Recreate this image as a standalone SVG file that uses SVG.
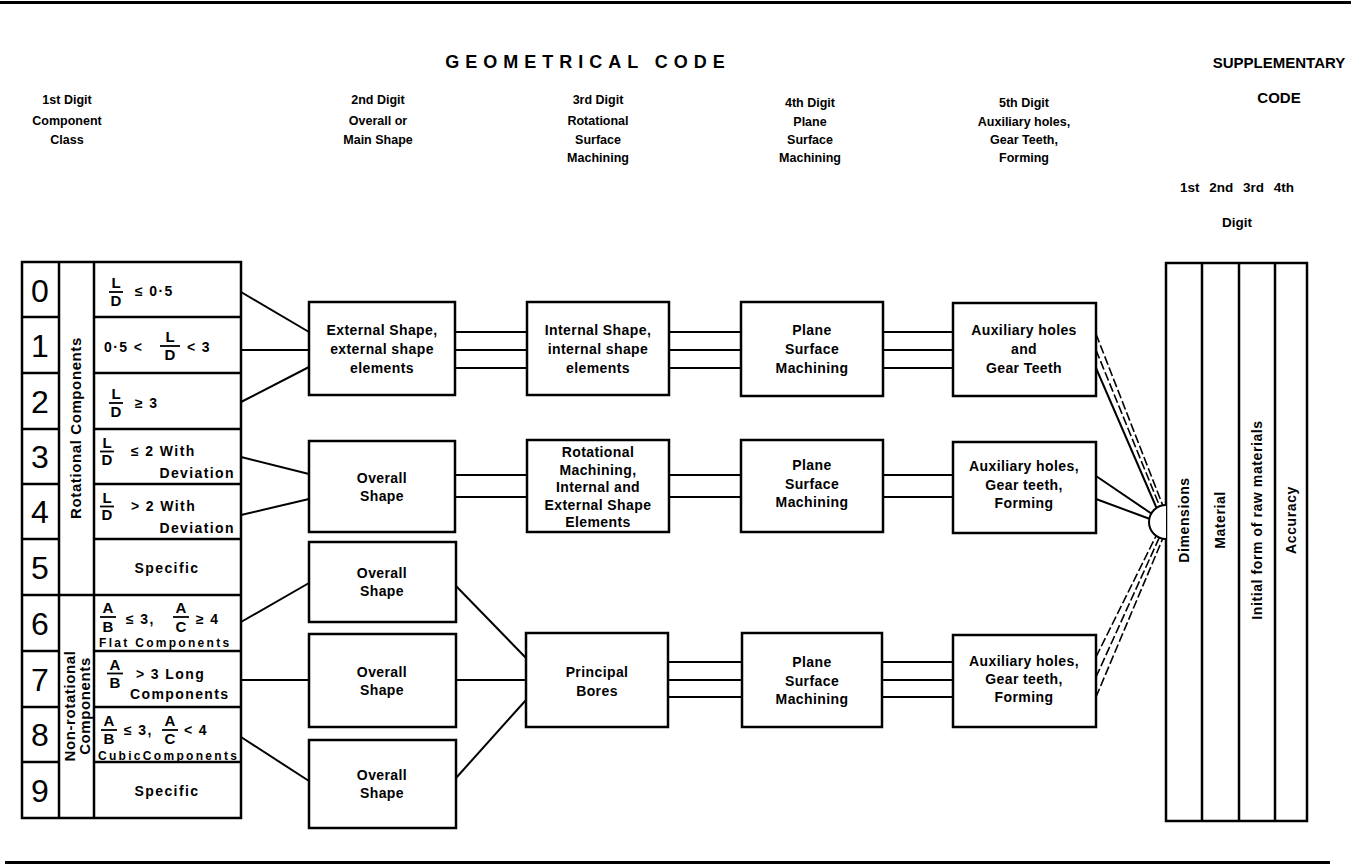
<svg xmlns="http://www.w3.org/2000/svg" width="1351" height="866" viewBox="0 0 1351 866">
  <style>
    text { font-family: "Liberation Sans", Arial, Helvetica, sans-serif; font-weight: bold; fill: #000; }
    .title { font-size: 15px; text-anchor: middle; }
    .title.geo { font-size: 18px; letter-spacing: 6px; }
    .hd { font-size: 12.5px; text-anchor: middle; }
    .hd.dig { font-size: 13.5px; word-spacing: 6px; }
    .bx { font-size: 14px; text-anchor: middle; letter-spacing: 0.4px; }
    .ds { font-size: 14px; letter-spacing: 1.4px; }
    .sm { font-size: 12px; letter-spacing: 2.3px; }
    .fr { font-size: 15px; text-anchor: middle; }
    .dg { font-size: 32px; font-weight: normal; text-anchor: middle; }
    .vl { font-size: 15px; text-anchor: middle; letter-spacing: 0.6px; }
    .sp { font-size: 14px; text-anchor: middle; letter-spacing: 0.6px; }
    .box { fill: #fff; stroke: #000; stroke-width: 2.5; }
    .rule { stroke: #000; stroke-width: 2.5; fill: none; }
    .bar { stroke: #000; stroke-width: 1.8; }
    .ln { stroke: #000; stroke-width: 2; fill: none; }
    .dash { stroke-dasharray: 9 3; stroke-width: 1.6; }
  </style>

  <!-- page rules -->
  <rect x="0" y="1" width="1351" height="3" fill="#000"/>
  <rect x="5" y="861" width="1325" height="3" fill="#000"/>

  <!-- headings -->
  <g id="headings">
    <text class="title geo" x="588" y="68">GEOMETRICAL CODE</text>
    <text class="title" x="1279" y="68">SUPPLEMENTARY</text>
    <text class="title" x="1279" y="103">CODE</text>

    <text class="hd" x="67" y="104">1st Digit</text>
    <text class="hd" x="67" y="125">Component</text>
    <text class="hd" x="67" y="144">Class</text>

    <text class="hd" x="378" y="104">2nd Digit</text>
    <text class="hd" x="378" y="125">Overall or</text>
    <text class="hd" x="378" y="144">Main Shape</text>

    <text class="hd" x="598" y="104">3rd Digit</text>
    <text class="hd" x="598" y="125">Rotational</text>
    <text class="hd" x="598" y="144">Surface</text>
    <text class="hd" x="598" y="162">Machining</text>

    <text class="hd" x="810" y="107">4th Digit</text>
    <text class="hd" x="810" y="126">Plane</text>
    <text class="hd" x="810" y="144">Surface</text>
    <text class="hd" x="810" y="162">Machining</text>

    <text class="hd" x="1024" y="107">5th Digit</text>
    <text class="hd" x="1024" y="126">Auxiliary holes,</text>
    <text class="hd" x="1024" y="144">Gear Teeth,</text>
    <text class="hd" x="1024" y="162">Forming</text>

    <text class="hd dig" x="1237" y="192">1st 2nd 3rd 4th</text>
    <text class="hd dig" x="1237" y="227">Digit</text>
  </g>

  <!-- 1st digit: component class table -->
  <g id="digit1-table">
    <rect class="box" x="22" y="262" width="219" height="556"/>
    <line class="rule" x1="59" y1="262" x2="59" y2="818"/>
    <line class="rule" x1="94" y1="262" x2="94" y2="818"/>
    <path class="rule" d="M22 317H59M94 317H241M22 373H59M94 373H241M22 429H59M94 429H241M22 484H59M94 484H241M22 539H59M94 539H241M22 595H241M22 651H59M94 651H241M22 707H59M94 707H241M22 762H59M94 762H241"/>

    <g id="digit-numbers">
      <text class="dg" x="40" y="302">0</text>
      <text class="dg" x="40" y="357">1</text>
      <text class="dg" x="40" y="413">2</text>
      <text class="dg" x="40" y="468">3</text>
      <text class="dg" x="40" y="523">4</text>
      <text class="dg" x="40" y="579">5</text>
      <text class="dg" x="40" y="635">6</text>
      <text class="dg" x="40" y="691">7</text>
      <text class="dg" x="40" y="746">8</text>
      <text class="dg" x="40" y="802">9</text>
    </g>

    <g id="class-labels">
      <text class="vl" transform="translate(81,428) rotate(-90)">Rotational Components</text>
      <text class="vl" transform="translate(75,706) rotate(-90)">Non-rotational</text>
      <text class="vl" transform="translate(90,706) rotate(-90)">Components</text>
    </g>

    <g id="row0">
      <text class="fr" x="116" y="288">L</text>
      <line class="bar" x1="109" y1="292" x2="123" y2="292"/>
      <text class="fr" x="116" y="306">D</text>
      <text class="ds" x="135" y="296">≤ 0·5</text>
    </g>
    <g id="row1">
      <text class="ds" x="104" y="352">0·5 &lt;</text>
      <text class="fr" x="170" y="342">L</text>
      <line class="bar" x1="160" y1="346" x2="180" y2="346"/>
      <text class="fr" x="170" y="360">D</text>
      <text class="ds" x="187" y="352">&lt; 3</text>
    </g>
    <g id="row2">
      <text class="fr" x="116" y="399">L</text>
      <line class="bar" x1="109" y1="403" x2="123" y2="403"/>
      <text class="fr" x="116" y="417">D</text>
      <text class="ds" x="135" y="408">≥ 3</text>
    </g>
    <g id="row3">
      <text class="fr" x="107" y="448">L</text>
      <line class="bar" x1="100" y1="451.5" x2="114" y2="451.5"/>
      <text class="fr" x="107" y="465">D</text>
      <text class="ds" x="131" y="456">≤ 2  With</text>
      <text class="ds" x="235" y="478" text-anchor="end">Deviation</text>
    </g>
    <g id="row4">
      <text class="fr" x="107" y="503">L</text>
      <line class="bar" x1="100" y1="506.5" x2="114" y2="506.5"/>
      <text class="fr" x="107" y="520">D</text>
      <text class="ds" x="131" y="511">&gt; 2  With</text>
      <text class="ds" x="235" y="533" text-anchor="end">Deviation</text>
    </g>
    <g id="row5">
      <text class="ds" x="167" y="573" text-anchor="middle">Specific</text>
    </g>
    <g id="row6">
      <text class="fr" x="108" y="613">A</text>
      <line class="bar" x1="100" y1="617" x2="116" y2="617"/>
      <text class="fr" x="108" y="632">B</text>
      <text class="ds" x="126" y="624">≤ 3,</text>
      <text class="fr" x="181" y="613">A</text>
      <line class="bar" x1="173" y1="617" x2="189" y2="617"/>
      <text class="fr" x="181" y="632">C</text>
      <text class="ds" x="196" y="624">≥ 4</text>
      <text class="sm" x="99" y="647">Flat Components</text>
    </g>
    <g id="row7">
      <text class="fr" x="115" y="670">A</text>
      <line class="bar" x1="107" y1="673.5" x2="123" y2="673.5"/>
      <text class="fr" x="115" y="688">B</text>
      <text class="ds" x="136" y="679">&gt; 3  Long</text>
      <text class="ds" x="130" y="699">Components</text>
    </g>
    <g id="row8">
      <text class="fr" x="109" y="726">A</text>
      <line class="bar" x1="101" y1="730" x2="117" y2="730"/>
      <text class="fr" x="109" y="744">B</text>
      <text class="ds" x="124" y="735">≤ 3,</text>
      <text class="fr" x="170" y="726">A</text>
      <line class="bar" x1="162" y1="730" x2="178" y2="730"/>
      <text class="fr" x="170" y="744">C</text>
      <text class="ds" x="184" y="735">&lt; 4</text>
      <text class="sm" x="98" y="760">CubicComponents</text>
    </g>
    <g id="row9">
      <text class="ds" x="167" y="796" text-anchor="middle">Specific</text>
    </g>
  </g>

  <!-- connectors -->
  <g id="connectors" class="ln">
    <!-- 1st digit to 2nd digit -->
    <line x1="241" y1="292" x2="309" y2="332"/>
    <line x1="241" y1="350" x2="309" y2="350"/>
    <line x1="241" y1="402" x2="309" y2="367"/>
    <line x1="241" y1="457" x2="309" y2="474"/>
    <line x1="241" y1="515" x2="309" y2="499"/>
    <line x1="241" y1="622" x2="309" y2="583"/>
    <line x1="241" y1="680" x2="309" y2="680"/>
    <line x1="241" y1="737" x2="309" y2="781"/>
    <!-- 2nd digit to 3rd digit -->
    <path d="M455 332H527M455 350H527M455 368H527M455 475H527M455 497H527"/>
    <line x1="456" y1="586" x2="526" y2="658"/>
    <line x1="456" y1="680" x2="526" y2="680"/>
    <line x1="456" y1="778" x2="526" y2="700"/>
    <!-- 3rd digit to 4th digit -->
    <path d="M669 332H741M669 350H741M669 368H741M669 475H741M669 497H741M668 662H742M668 680H742M668 697H742"/>
    <!-- 4th digit to 5th digit -->
    <path d="M883 332H953M883 350H953M883 368H953M883 475H953M883 497H953M882 662H953M882 680H953M882 697H953"/>
    <!-- 5th digit to supplementary code -->
    <line class="dash" x1="1096" y1="334" x2="1163" y2="506"/>
    <line class="dash" x1="1096" y1="350" x2="1160" y2="507"/>
    <line x1="1096" y1="368" x2="1157" y2="509"/>
    <line x1="1096" y1="476" x2="1152" y2="514"/>
    <line x1="1096" y1="499" x2="1150" y2="519"/>
    <line class="dash" x1="1096" y1="657" x2="1157" y2="534"/>
    <line class="dash" x1="1096" y1="677" x2="1160" y2="536"/>
    <line class="dash" x1="1096" y1="697" x2="1163" y2="538"/>
  </g>

  <!-- 2nd digit -->
  <g id="d2-external">
    <rect class="box" x="309" y="302" width="146" height="93"/>
    <text class="bx" x="382" y="335">External Shape,</text>
    <text class="bx" x="382" y="354">external shape</text>
    <text class="bx" x="382" y="373">elements</text>
  </g>
  <g id="d2-overall-1">
    <rect class="box" x="309" y="441" width="146" height="91"/>
    <text class="bx" x="382" y="483">Overall</text>
    <text class="bx" x="382" y="501">Shape</text>
  </g>
  <g id="d2-overall-2">
    <rect class="box" x="309" y="542" width="147" height="80"/>
    <text class="bx" x="382" y="578">Overall</text>
    <text class="bx" x="382" y="596">Shape</text>
  </g>
  <g id="d2-overall-3">
    <rect class="box" x="309" y="634" width="147" height="93"/>
    <text class="bx" x="382" y="677">Overall</text>
    <text class="bx" x="382" y="695">Shape</text>
  </g>
  <g id="d2-overall-4">
    <rect class="box" x="309" y="740" width="147" height="88"/>
    <text class="bx" x="382" y="780">Overall</text>
    <text class="bx" x="382" y="798">Shape</text>
  </g>

  <!-- 3rd digit -->
  <g id="d3-internal">
    <rect class="box" x="527" y="302" width="142" height="93"/>
    <text class="bx" x="598" y="335">Internal Shape,</text>
    <text class="bx" x="598" y="354">internal shape</text>
    <text class="bx" x="598" y="373">elements</text>
  </g>
  <g id="d3-rotational">
    <rect class="box" x="527" y="440" width="142" height="92"/>
    <text class="bx" x="598" y="457">Rotational</text>
    <text class="bx" x="598" y="474.5">Machining,</text>
    <text class="bx" x="598" y="492">Internal and</text>
    <text class="bx" x="598" y="509.5">External Shape</text>
    <text class="bx" x="598" y="527">Elements</text>
  </g>
  <g id="d3-bores">
    <rect class="box" x="526" y="633" width="142" height="94"/>
    <text class="bx" x="597" y="677">Principal</text>
    <text class="bx" x="597" y="696">Bores</text>
  </g>

  <!-- 4th digit -->
  <g id="d4-plane-1">
    <rect class="box" x="741" y="302" width="142" height="94"/>
    <text class="bx" x="812" y="335">Plane</text>
    <text class="bx" x="812" y="354">Surface</text>
    <text class="bx" x="812" y="373">Machining</text>
  </g>
  <g id="d4-plane-2">
    <rect class="box" x="741" y="440" width="142" height="92"/>
    <text class="bx" x="812" y="470">Plane</text>
    <text class="bx" x="812" y="489">Surface</text>
    <text class="bx" x="812" y="507">Machining</text>
  </g>
  <g id="d4-plane-3">
    <rect class="box" x="742" y="633" width="140" height="94"/>
    <text class="bx" x="812" y="667">Plane</text>
    <text class="bx" x="812" y="686">Surface</text>
    <text class="bx" x="812" y="704">Machining</text>
  </g>

  <!-- 5th digit -->
  <g id="d5-aux-1">
    <rect class="box" x="953" y="303" width="143" height="93"/>
    <text class="bx" x="1024" y="335">Auxiliary holes</text>
    <text class="bx" x="1024" y="354">and</text>
    <text class="bx" x="1024" y="373">Gear Teeth</text>
  </g>
  <g id="d5-aux-2">
    <rect class="box" x="953" y="442" width="143" height="91"/>
    <text class="bx" x="1024" y="471">Auxiliary holes,</text>
    <text class="bx" x="1024" y="490">Gear teeth,</text>
    <text class="bx" x="1024" y="508">Forming</text>
  </g>
  <g id="d5-aux-3">
    <rect class="box" x="953" y="635" width="143" height="92"/>
    <text class="bx" x="1024" y="666">Auxiliary holes,</text>
    <text class="bx" x="1024" y="684">Gear teeth,</text>
    <text class="bx" x="1024" y="702">Forming</text>
  </g>

  <!-- supplementary code -->
  <g id="supplementary">
    <rect class="box" x="1166" y="263" width="141" height="558"/>
    <path class="rule" d="M1202 263V821M1239 263V821M1275 263V821"/>
    <text class="sp" transform="translate(1189,520) rotate(-90)">Dimensions</text>
    <text class="sp" transform="translate(1225,520) rotate(-90)">Material</text>
    <text class="sp" transform="translate(1262,520) rotate(-90)">Initial form of raw materials</text>
    <text class="sp" transform="translate(1296,520) rotate(-90)">Accuracy</text>
  </g>
  <g id="junction">
    <path d="M1166 505A17 17 0 0 0 1166 539" fill="#fff" stroke="#000" stroke-width="2"/>
  </g>
</svg>
